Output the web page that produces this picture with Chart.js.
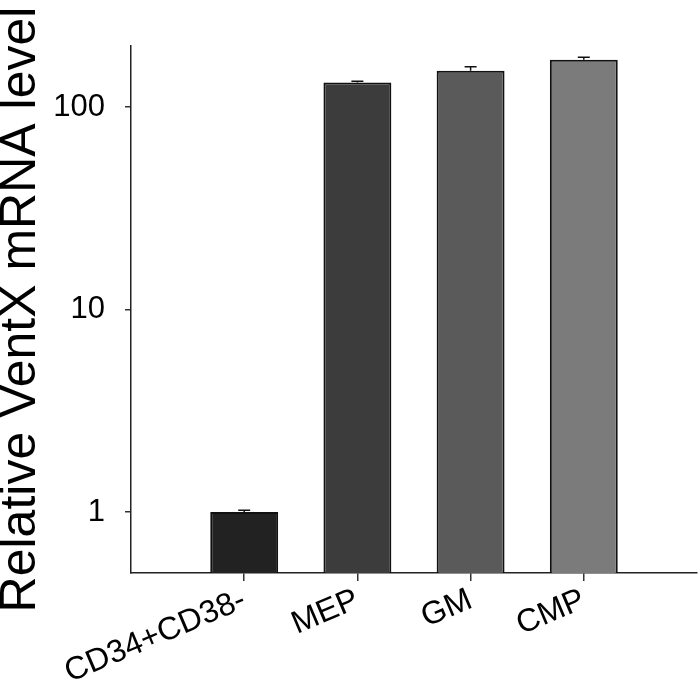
<!DOCTYPE html>
<html lang="en">
<head>
    <meta charset="UTF-8">
    <title>VentX mRNA level</title>
    <style>
        html, body { margin: 0; padding: 0; background: #fff; }
        #wrap { width: 700px; height: 679px; }
    </style>
</head>
<body>
    <div id="wrap"><canvas id="chart" width="700" height="679"></canvas></div>

    <script src="https://cdn.jsdelivr.net/npm/chart.js"></script>
    <script>
        // data
        const categories = ['CD34+CD38-', 'MEP', 'GM', 'CMP'];
        const values = [1, 132, 151, 171];
        const errors = [0.02, 2, 7, 5];
        const barColors = ['#222222', '#3c3c3c', '#5a5a5a', '#7b7b7b'];
        const yTicks = [1, 10, 100];

        // empty slots on each side so the bars sit away from the axes
        const labels = [''].concat(categories, ['']);
        const padded = arr => [null].concat(arr, [null]);

        const font = 'Liberation Sans, Arial, Helvetica, sans-serif';

        // small error bars on top of each bar
        const errorBars = {
            id: 'errorBars',
            afterDatasetsDraw(chart) {
                const meta = chart.getDatasetMeta(0);
                const y = chart.scales.y;
                const ctx = chart.ctx;
                ctx.save();
                ctx.strokeStyle = '#111';
                ctx.lineWidth = 1.5;
                values.forEach((v, i) => {
                    const bar = meta.data[i + 1];
                    const top = y.getPixelForValue(v + errors[i]);
                    const base = y.getPixelForValue(v);
                    ctx.beginPath();
                    ctx.moveTo(bar.x, base);
                    ctx.lineTo(bar.x, top);
                    ctx.moveTo(bar.x - 6, top);
                    ctx.lineTo(bar.x + 6, top);
                    ctx.stroke();
                });
                ctx.restore();
            }
        };

        const ctx = document.getElementById('chart').getContext('2d');
        const myChart = new Chart(ctx, {
            type: 'bar',
            data: {
                labels: labels,
                datasets: [{
                    data: padded(values),
                    backgroundColor: padded(barColors),
                    borderColor: '#111',
                    borderWidth: 2,
                    barPercentage: 0.6,
                    categoryPercentage: 1
                }]
            },
            options: {
                responsive: false,
                animation: false,
                layout: { padding: { top: 46, right: 3, left: 0, bottom: 0 } },
                plugins: {
                    legend: { display: false },
                    tooltip: { enabled: false }
                },
                scales: {
                    x: {
                        offset: false,
                        grid: {
                            offset: false,
                            drawOnChartArea: false,
                            drawTicks: true,
                            tickLength: 8,
                            lineWidth: 1.5,
                            color: c => (c.index === 0 || c.index === labels.length - 1) ? 'rgba(0,0,0,0)' : '#333'
                        },
                        border: { display: true, color: '#222', width: 1.5 },
                        ticks: {
                            autoSkip: false,
                            minRotation: 23,
                            maxRotation: 23,
                            padding: 0,
                            color: '#000',
                            font: { family: font, size: 32 }
                        },
                        afterFit: s => { s.height = 106; s.paddingLeft = 0; s.paddingRight = 0; }
                    },
                    y: {
                        type: 'logarithmic',
                        min: 0.5,
                        max: 200,
                        afterBuildTicks: s => { s.ticks = yTicks.map(v => ({ value: v })); },
                        grid: {
                            drawOnChartArea: false,
                            drawTicks: true,
                            tickLength: 6,
                            lineWidth: 1.5,
                            color: '#333'
                        },
                        border: { display: true, color: '#222', width: 1.5 },
                        ticks: {
                            padding: 20,
                            color: '#000',
                            font: { family: font, size: 31 },
                            callback: v => String(v)
                        },
                        title: {
                            display: true,
                            text: 'Relative VentX mRNA level',
                            color: '#000',
                            font: { family: font, size: 50, lineHeight: 0.86 },
                            padding: 0
                        },
                        afterFit: s => { s.width = 131; s.paddingTop = 0; s.paddingBottom = 0; }
                    }
                }
            },
            plugins: [errorBars]
        });
    </script>
</body>
</html>
